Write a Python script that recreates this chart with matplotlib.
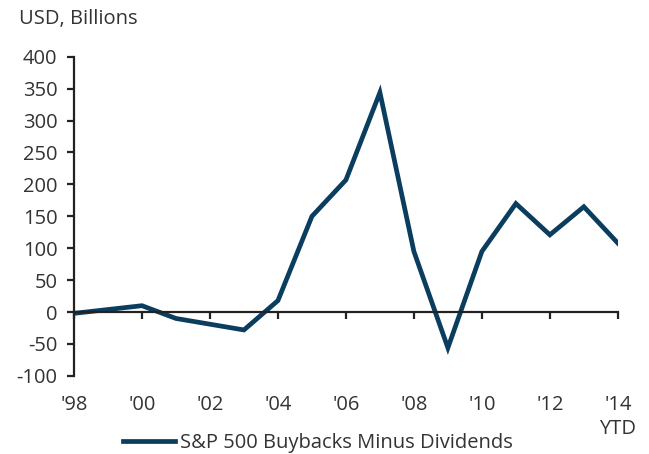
import matplotlib
matplotlib.use("Agg")
import matplotlib.pyplot as plt
import matplotlib.transforms as mtransforms

years = [1998, 1999, 2000, 2001, 2002, 2003, 2004, 2005, 2006,
         2007, 2008, 2009, 2010, 2011, 2012, 2013, 2014]
buybacks_minus_divs = [-2, 4, 10, -10, -19, -28, 18, 150, 207,
                       344, 95, -56, 95, 170, 121, 165, 108]

tick_years = [1998, 2000, 2002, 2004, 2006, 2008, 2010, 2012, 2014]
tick_labels = ["'98", "'00", "'02", "'04", "'06", "'08", "'10", "'12", "'14\nYTD"]
y_ticks = [-100, -50, 0, 50, 100, 150, 200, 250, 300, 350, 400]

line_color = "#0b3d5e"
text_color = "#333333"
axis_color = "#222222"
fs = 14.5

plt.rcParams['font.family'] = ['Open Sans', 'DejaVu Sans']

fig = plt.figure(figsize=(6.49, 4.54), dpi=100)
ax = fig.add_axes([0.114, 0.172, 0.838, 0.703])

line, = ax.plot(years, buybacks_minus_divs, color=line_color, lw=3.4,
                solid_joinstyle='miter', label="S&P 500 Buybacks Minus Dividends")

ax.set_xlim(1998, 2014)
ax.set_ylim(-100, 400)
ax.set_yticks(y_ticks)
ax.set_yticklabels([str(v) for v in y_ticks])

# x axis sits on the zero line, labels stay at the bottom
ax.spines['bottom'].set_position(('data', 0))
ax.spines['top'].set_visible(False)
ax.spines['right'].set_visible(False)
for s in ['left', 'bottom']:
    ax.spines[s].set_color(axis_color)
    ax.spines[s].set_linewidth(1.6)

ax.set_xticks(tick_years)
ax.set_xticklabels([])
ax.tick_params(axis='x', direction='out', length=5, width=1.6, color=axis_color)
ax.tick_params(axis='y', direction='out', length=5, width=1.6, color=axis_color,
               labelsize=fs, labelcolor=text_color, pad=7)

trans = mtransforms.blended_transform_factory(ax.transData, ax.transAxes)
for yr, lab in zip(tick_years, tick_labels):
    ax.text(yr, -0.06, lab, transform=trans, ha='center', va='top',
            fontsize=fs, color=text_color, linespacing=1.25)

fig.text(0.029, 0.958, "USD, Billions", ha='left', va='center',
         fontsize=fs, color=text_color)

fig.legend(handles=[line], loc='center', bbox_to_anchor=(0.49, 0.024),
           frameon=False, fontsize=fs, labelcolor=text_color,
           handlelength=2.6, handletextpad=0.25)

fig.savefig("out.png", dpi=100)
